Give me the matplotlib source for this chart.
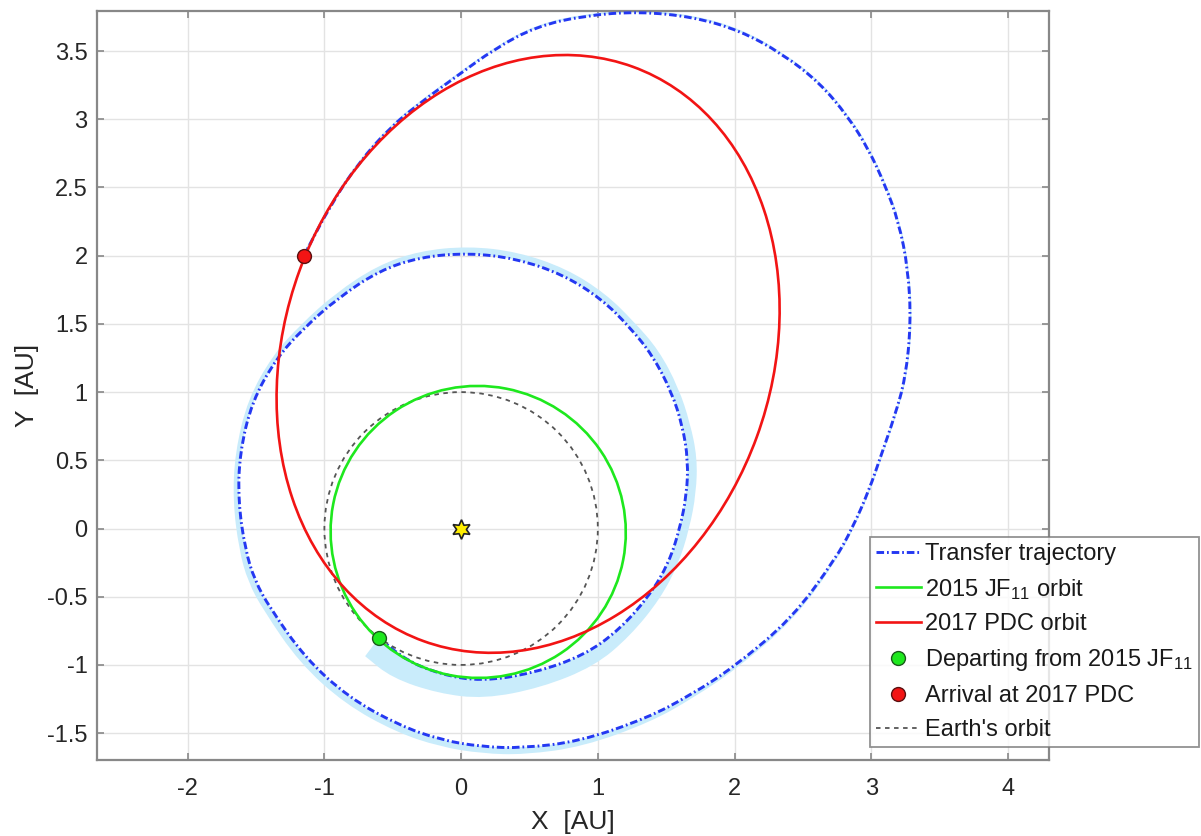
import numpy as np
import matplotlib.pyplot as plt
from matplotlib.patches import Ellipse, PathPatch
from matplotlib.path import Path
from matplotlib.lines import Line2D
from matplotlib.ticker import FuncFormatter

plt.rcParams['font.family'] = ['Liberation Sans', 'DejaVu Sans']
plt.rcParams['mathtext.fontset'] = 'custom'
plt.rcParams['mathtext.rm'] = 'Liberation Sans'
plt.rcParams['mathtext.it'] = 'Liberation Sans:italic'
plt.rcParams['axes.unicode_minus'] = False

# transfer trajectory [AU], read along the curve from departure to arrival
traj_x = [-0.60, -0.44, -0.15, 0.15, 0.53, 0.90, 1.16, 1.38, 1.52, 1.60,
          1.65, 1.66, 1.62, 1.54, 1.40, 1.23, 1.03, 0.75, 0.40, 0.05,
          -0.30, -0.60, -0.90, -1.15, -1.35, -1.53, -1.62, -1.63, -1.58, -1.51,
          -1.40, -1.14, -0.82, -0.46, -0.15, 0.15, 0.45, 0.87, 1.36, 1.68,
          1.99, 2.42, 2.74, 2.86, 2.98, 3.08, 3.17, 3.25, 3.29, 3.27,
          3.20, 3.10, 2.98, 2.83, 2.62, 2.35, 2.04, 1.70, 1.30, 0.90,
          0.55, 0.25, -0.04, -0.30, -0.52, -0.75, -0.95, -1.15]
traj_y = [-0.80, -0.95, -1.07, -1.12, -1.06, -0.93, -0.74, -0.49, -0.25, 0.00,
          0.25, 0.50, 0.75, 1.00, 1.27, 1.48, 1.68, 1.86, 1.98, 2.02,
          1.99, 1.89, 1.69, 1.47, 1.25, 0.93, 0.55, 0.20, -0.15, -0.38,
          -0.58, -0.95, -1.24, -1.44, -1.55, -1.60, -1.61, -1.56, -1.39, -1.22,
          -1.02, -0.66, -0.22, 0.00, 0.27, 0.56, 0.82, 1.10, 1.50, 1.90,
          2.25, 2.52, 2.78, 3.02, 3.27, 3.48, 3.65, 3.75, 3.79, 3.76,
          3.68, 3.52, 3.31, 3.12, 2.94, 2.68, 2.38, 2.00]
# thrust arrow length along the trajectory [AU]
thrust = [0.17, 0.16, 0.14, 0.13, 0.12, 0.11, 0.09, 0.08, 0.07, 0.07,
          0.07, 0.07, 0.06, 0.06, 0.06, 0.05, 0.05, 0.05, 0.05, 0.05,
          0.045, 0.04, 0.04, 0.035, 0.035, 0.035, 0.035, 0.04, 0.045, 0.05,
          0.05, 0.055, 0.055, 0.055, 0.05, 0.05, 0.05, 0.045, 0.04, 0.03,
          0.025, 0.02, 0.015, 0.012, 0.012, 0.012, 0.012, 0.012, 0.012, 0.012,
          0.012, 0.012, 0.012, 0.012, 0.012, 0.012, 0.015, 0.015, 0.015, 0.015,
          0.015, 0.015, 0.015, 0.015, 0.015, 0.015, 0.015, 0.015]

depart = (-0.60, -0.80)
arrive = (-1.15, 2.00)
sun = (0.0, 0.0)

# orbits: centre x, centre y, semi-major, semi-minor, tilt [deg]
earth_orbit = (0.0, 0.0, 1.0, 1.0, 0.0)
jf11_orbit = (0.125, -0.025, 1.08, 1.07, -11.0)
pdc_orbit = (0.49, 1.28, 2.24, 1.78, 70.0)

c_blue = '#2438f2'
c_green = '#1ee81e'
c_red = '#f21414'
c_grey = '#555555'
c_thrust = '#c9ecfb'
dashdot = (0, (2.6, 1.0, 0.6, 1.0))


def smooth(px, py):
    # quadratic bezier through the midpoints, read points act as control points
    verts = [(px[0], py[0])]
    codes = [Path.MOVETO]
    for i in range(1, len(px) - 1):
        verts += [(px[i], py[i]), ((px[i] + px[i + 1]) / 2, (py[i] + py[i + 1]) / 2)]
        codes += [Path.CURVE3, Path.CURVE3]
    verts.append((px[-1], py[-1]))
    codes.append(Path.LINETO)
    return verts, codes


fig = plt.figure(figsize=(12.01, 8.36), dpi=100)
ax = fig.add_axes([97.3 / 1201, 76 / 836, 951.7 / 1201, 749.3 / 836])

# thrust band (arrows pointing outward from the trajectory)
x = np.array(traj_x)
y = np.array(traj_y)
t = np.array(thrust)
r = np.hypot(x, y)
xo = x + t * x / r
yo = y + t * y / r
v1, c1 = smooth(x, y)
v2, c2 = smooth(xo[::-1], yo[::-1])
c2[0] = Path.LINETO
band = Path(v1 + v2 + [v1[0]], c1 + c2 + [Path.CLOSEPOLY])
ax.add_patch(PathPatch(band, facecolor=c_thrust, lw=0, zorder=2))

v, c = smooth(x, y)
ax.add_patch(PathPatch(Path(v, c), fill=False, edgecolor=c_blue, lw=2.1,
                       ls=dashdot, zorder=3))


def orbit(o, color, ls, lw):
    e = Ellipse((o[0], o[1]), 2 * o[2], 2 * o[3], angle=o[4], fill=False,
                edgecolor=color, linestyle=ls, lw=lw, zorder=4)
    ax.add_patch(e)


orbit(earth_orbit, c_grey, (0, (2.5, 2.5)), 1.3)
orbit(jf11_orbit, c_green, '-', 1.9)
orbit(pdc_orbit, c_red, '-', 1.9)

ax.plot(*depart, 'o', ms=10, mfc=c_green, mec='#1a5a1a', mew=1.0, zorder=6)
ax.plot(*arrive, 'o', ms=10, mfc=c_red, mec='#5a1010', mew=1.0, zorder=6)
ax.plot(*sun, marker=(6, 1, 0), ms=14, mfc='#ffee00', mec='#222222', mew=1.2, zorder=6)

ax.set_xlim(-2.661, 4.30)
ax.set_ylim(-1.697, 3.796)
ax.set_xticks(np.arange(-2, 5, 1))
ax.set_yticks(np.arange(-1.5, 3.6, 0.5))
fmt = FuncFormatter(lambda val, pos: '%g' % val)
ax.xaxis.set_major_formatter(fmt)
ax.yaxis.set_major_formatter(fmt)
ax.grid(True, color='#e3e3e3', lw=1.0)
ax.set_axisbelow(True)
ax.tick_params(direction='in', length=5, width=1.2, color='#888888',
               labelsize=17, labelcolor='#262626', top=True, right=True)
ax.tick_params(axis='x', pad=13)
ax.tick_params(axis='y', pad=7)
for s in ax.spines.values():
    s.set_color('#888888')
    s.set_linewidth(1.6)

ax.set_xlabel('X  [AU]', fontsize=19, color='#262626', labelpad=7)
ax.set_ylabel('Y  [AU]', fontsize=19, color='#262626', labelpad=6)

handles = [
    Line2D([], [], color=c_blue, lw=2.1, ls=dashdot),
    Line2D([], [], color=c_green, lw=1.9),
    Line2D([], [], color=c_red, lw=1.9),
    Line2D([], [], ls='none', marker='o', ms=10, mfc=c_green, mec='#1a5a1a'),
    Line2D([], [], ls='none', marker='o', ms=10, mfc=c_red, mec='#5a1010'),
    Line2D([], [], color=c_grey, lw=1.3, ls=(0, (2.5, 2.5))),
]
labels = ['Transfer trajectory', '2015 JF$_{11}$ orbit', '2017 PDC orbit',
          'Departing from 2015 JF$_{11}$', 'Arrival at 2017 PDC', "Earth's orbit"]
leg = fig.legend(handles, labels, loc='upper left',
                 bbox_to_anchor=(870 / 1201, 1 - 537 / 836), bbox_transform=fig.transFigure,
                 fontsize=17, frameon=True, fancybox=False, borderpad=0.25,
                 labelspacing=0.5, handlelength=1.9, handletextpad=0.2,
                 borderaxespad=0)
leg.get_frame().set_edgecolor('#777777')
leg.get_frame().set_linewidth(1.3)
for txt in leg.get_texts():
    txt.set_color('#1a1a1a')

fig.savefig('out.png', dpi=100)
